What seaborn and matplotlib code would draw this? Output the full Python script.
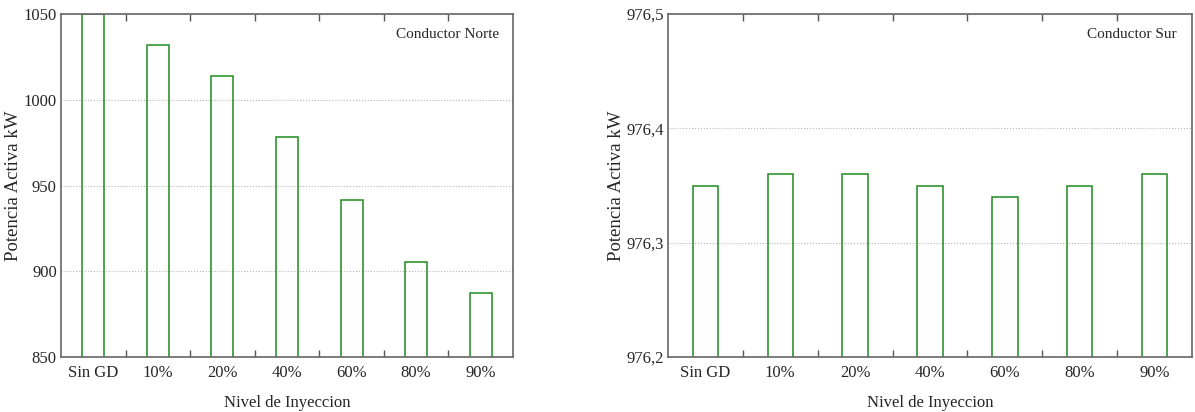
import numpy as np
import pandas as pd
import matplotlib
matplotlib.use("Agg")
import matplotlib.pyplot as plt
import seaborn as sns
from matplotlib.ticker import FuncFormatter, FixedLocator, MultipleLocator

# data
niveles = ["Sin GD", "10%", "20%", "40%", "60%", "80%", "90%"]
norte_kw = [1050, 1032, 1014, 978, 941.5, 905.5, 887.5]
sur_kw = [976.35, 976.36, 976.36, 976.35, 976.34, 976.35, 976.36]

sns.set_theme(style="white")
plt.rcParams["font.family"] = ["Liberation Serif", "DejaVu Serif"]

green = "#1c8c1c"
fig = plt.figure(figsize=(11.95, 4.12), dpi=100)
W, H = 1195, 412
ax1 = fig.add_axes([61 / W, 1 - 357 / H, (513 - 61) / W, (357 - 14) / H])
ax2 = fig.add_axes([668 / W, 1 - 357 / H, (1192 - 668) / W, (357 - 14) / H])


def draw(ax, values, ylim, step, fmt, label):
    df = pd.DataFrame({"nivel": niveles, "kw": values})
    sns.barplot(data=df, x="nivel", y="kw", fill=False, color=green,
                width=0.34, linewidth=1.1, ax=ax)
    ax.set_ylim(*ylim)
    ax.set_xlim(-0.5, len(niveles) - 0.5)
    ax.yaxis.set_major_locator(MultipleLocator(step))
    ax.yaxis.set_major_formatter(FuncFormatter(fmt))
    ax.grid(True, axis="y", color="#b5b5b5", linestyle=":", linewidth=0.8)
    ax.set_axisbelow(True)
    # tick marks between categories, labels in the centre
    ax.xaxis.set_minor_locator(FixedLocator(np.arange(0.5, len(niveles) - 1, 1)))
    ax.tick_params(axis="x", which="major", length=0, labelsize=12, pad=6)
    ax.tick_params(axis="x", which="minor", length=5, width=1, color="#555555",
                   direction="in", top=True, bottom=True)
    ax.tick_params(axis="y", length=0, labelsize=12, pad=3)
    for s in ax.spines.values():
        s.set_visible(True)
        s.set_color("#666666")
        s.set_linewidth(1.2)
    ax.set_xlabel("Nivel de Inyeccion", fontsize=12, labelpad=10)
    ax.set_ylabel("Potencia Activa kW", fontsize=13.5, labelpad=1)
    ax.text(0.97, 0.94, label, transform=ax.transAxes, ha="right", va="center",
            fontsize=11)


draw(ax1, norte_kw, (850, 1050), 50, lambda v, p: f"{v:.0f}", "Conductor Norte")
draw(ax2, sur_kw, (976.2, 976.5), 0.1,
     lambda v, p: f"{v:.1f}".replace(".", ","), "Conductor Sur")

fig.savefig("out.png", dpi=100)
